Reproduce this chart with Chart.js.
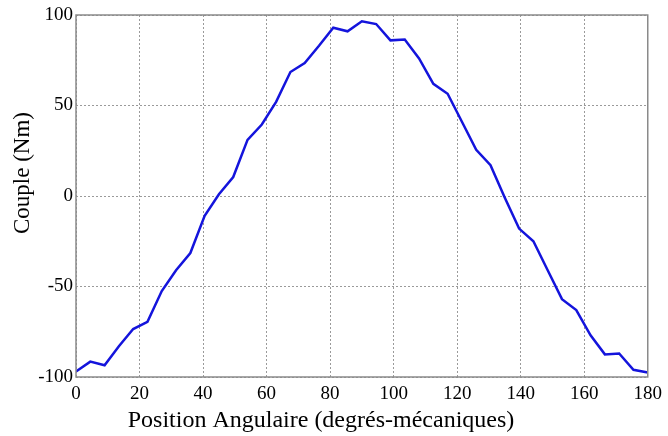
<!DOCTYPE html>
<html>
<head>
<meta charset="utf-8">
<script src="https://cdn.jsdelivr.net/npm/chart.js@4.4.0/dist/chart.umd.min.js"></script>
<style>
  html, body { margin: 0; padding: 0; background: #fff; }
  #wrap { width: 668px; height: 436px; }
</style>
</head>
<body>
<div id="wrap"><canvas id="myChart" width="668" height="436"></canvas></div>
<script>
// angle positions (degrees) and torque (Nm)
const positions = [0, 4.5, 9, 13.5, 18, 22.5, 27, 31.5, 36, 40.5, 45, 49.5, 54, 58.5, 63, 67.5, 72, 76.5, 81, 85.5,
    90, 94.5, 99, 103.5, 108, 112.5, 117, 121.5, 126, 130.5, 135, 139.5, 144, 148.5, 153, 157.5, 162, 166.5, 171, 175.5, 180];
const couple = [-97, -91.5, -93.5, -83, -73.5, -69.5, -52.5, -41, -31.5, -11, 1, 10.5, 31, 39.5, 52, 68.5, 73.5, 83, 93, 91,
    96.5, 95, 86, 86.5, 76, 62, 56.5, 41, 25.5, 17, -1, -18, -25, -41, -57, -63, -77, -87.5, -87, -96, -97.5];
const xTicks = [0, 20, 40, 60, 80, 100, 120, 140, 160, 180];
const yTicks = [-100, -50, 0, 50, 100];
const xTitle = 'Position Angulaire (degrés-mécaniques)';
const yTitle = 'Couple (Nm)';

const points = positions.map((p, i) => ({x: p, y: couple[i]}));

// box round the plot area + axis titles (matlab puts them off-centre)
const boxPlugin = {
    id: 'box',
    afterDraw(chart) {
        const a = chart.chartArea;
        const c = chart.ctx;
        c.save();
        c.strokeStyle = '#8a8a8a';
        c.lineWidth = 1.5;
        c.strokeRect(a.left, a.top, a.right - a.left, a.bottom - a.top);

        c.fillStyle = '#000';
        c.textAlign = 'center';
        c.textBaseline = 'alphabetic';
        c.font = '24px "Liberation Serif"';
        c.fillText(xTitle, 321, 427);

        c.font = '23px "Liberation Serif"';
        c.translate(29, 173);
        c.rotate(-Math.PI / 2);
        c.fillText(yTitle, 0, 0);
        c.restore();
    }
};

const ctx = document.getElementById('myChart').getContext('2d');
const myChart = new Chart(ctx, {
    type: 'scatter',
    data: {
        datasets: [{
            data: points,
            showLine: true,
            borderColor: '#1414dc',
            borderWidth: 2.5,
            pointRadius: 0,
            tension: 0
        }]
    },
    options: {
        responsive: false,
        animation: false,
        layout: { padding: { top: 15, right: 16, left: 0, bottom: 0 } },
        plugins: { legend: { display: false }, tooltip: { enabled: false } },
        scales: {
            x: {
                type: 'linear',
                min: 0,
                max: 180,
                afterBuildTicks: (scale) => { scale.ticks = xTicks.map(v => ({value: v})); },
                afterFit: (scale) => { scale.height = 59; },
                grid: { color: '#9a9a9a', lineWidth: 1, drawTicks: false },
                border: { display: false, dash: [2, 2] },
                ticks: { color: '#000', font: { family: 'Liberation Serif', size: 19 }, padding: 6, maxRotation: 0 }
            },
            y: {
                min: -100,
                max: 100,
                afterBuildTicks: (scale) => { scale.ticks = yTicks.map(v => ({value: v})); },
                afterFit: (scale) => { scale.width = 76; },
                grid: { color: '#9a9a9a', lineWidth: 1, drawTicks: false },
                border: { display: false, dash: [2, 2] },
                ticks: { color: '#000', font: { family: 'Liberation Serif', size: 19 }, padding: 3 }
            }
        }
    },
    plugins: [boxPlugin]
});
</script>
</body>
</html>
